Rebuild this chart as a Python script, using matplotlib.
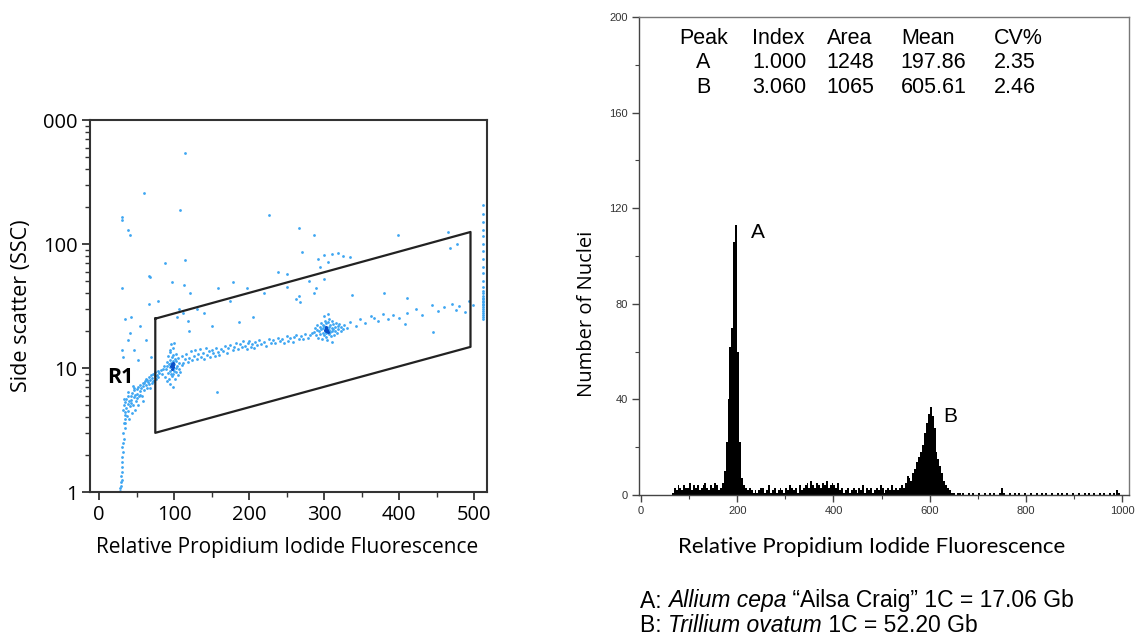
import numpy as np
import matplotlib
matplotlib.use("Agg")
import matplotlib.pyplot as plt
from matplotlib.ticker import FixedLocator, NullFormatter, LogLocator

# ---- left panel: SSC vs PI scatter ----
stream_x = [27, 28, 28, 29, 29, 30, 29, 30, 31, 30, 31, 32, 31, 32, 33, 32, 34, 33, 35, 34]
stream_y = [1.0, 1.02, 1.08, 1.12, 1.2, 1.25, 1.35, 1.45, 1.6, 1.75, 1.9, 2.1, 2.3, 2.5, 2.7, 3.0, 3.3, 3.6, 3.9, 4.2]

band_left = [(32, 4.6), (33, 5.0), (34, 4.4), (35, 5.3), (36, 4.8), (36, 5.6), (38, 5.1), (38, 4.5),
             (39, 5.9), (40, 5.4), (41, 4.9), (42, 6.0), (43, 5.5), (44, 6.3), (45, 5.0), (46, 5.8),
             (47, 6.6), (48, 6.1), (49, 5.4), (50, 6.8), (51, 6.2), (52, 7.0), (53, 5.9), (54, 6.5),
             (55, 7.3), (56, 6.9), (57, 6.0), (58, 7.6), (59, 7.1), (60, 6.6), (61, 7.9), (62, 7.3),
             (63, 8.2), (64, 6.9), (65, 7.7), (66, 8.4), (67, 7.4), (68, 8.0), (69, 8.7), (70, 7.6),
             (71, 8.3), (72, 9.0), (73, 7.9), (74, 8.6), (75, 9.3), (76, 8.1), (77, 8.8), (78, 9.5),
             (79, 8.4), (80, 9.1), (82, 9.6), (84, 8.9), (85, 9.8), (86, 10.3), (37, 4.1), (40, 3.9),
             (44, 4.3), (48, 4.6), (52, 5.0), (58, 5.4), (35, 3.6), (42, 5.2), (46, 6.9), (50, 5.7),
             (55, 6.1), (60, 7.6), (64, 8.0), (68, 6.9), (72, 7.9), (33, 5.6), (39, 6.4), (45, 7.2)]

cluster_1 = [(88, 8.5), (89, 9.8), (90, 11.2), (90, 7.8), (91, 10.4), (92, 9.1), (92, 12.5), (93, 10.8),
             (93, 8.2), (94, 11.6), (94, 9.5), (95, 10.1), (95, 13.5), (95, 7.4), (96, 11.0), (96, 9.0),
             (97, 10.5), (97, 12.2), (97, 8.6), (98, 9.8), (98, 11.4), (98, 14.5), (99, 10.2), (99, 8.9),
             (99, 12.8), (100, 10.7), (100, 9.4), (101, 11.8), (101, 8.1), (102, 10.0), (102, 13.0),
             (103, 9.2), (103, 11.3), (104, 10.4), (105, 8.7), (105, 12.0), (106, 9.9), (107, 11.0),
             (108, 9.3), (110, 10.6), (96, 15.5), (98, 7.0), (100, 16.0), (94, 14.0)]
core_1 = [(96, 10.3), (97, 10.8), (98, 10.2), (98, 11.0), (99, 10.6), (97, 9.8)]

band_mid = [(110, 12.4), (112, 10.9), (114, 11.8), (116, 13.0), (118, 11.2), (120, 12.1), (122, 13.6),
            (124, 11.5), (126, 12.6), (128, 13.9), (130, 11.9), (132, 12.9), (134, 14.2), (136, 12.3),
            (138, 13.3), (140, 11.8), (142, 14.5), (144, 12.7), (146, 13.6), (148, 12.2), (150, 14.0),
            (152, 13.1), (154, 12.5), (156, 14.6), (158, 13.4), (160, 12.8), (162, 14.1), (165, 13.6),
            (168, 15.0), (170, 13.2), (172, 14.4), (175, 15.4), (178, 13.9), (180, 14.8), (182, 16.0),
            (185, 14.3), (188, 15.5), (190, 14.7), (192, 16.4), (195, 15.0), (197, 14.2), (198, 15.8),
            (200, 16.5), (202, 14.8), (204, 15.6), (206, 14.4), (208, 16.2), (210, 15.3), (213, 16.8),
            (216, 15.7), (220, 16.3), (223, 15.1), (226, 17.2), (229, 16.0), (232, 16.9), (235, 15.8),
            (238, 17.5), (241, 16.4), (244, 17.1), (247, 16.0), (250, 18.0), (252, 16.6), (255, 17.4),
            (258, 16.3), (260, 17.9), (263, 18.6), (266, 17.2), (269, 18.2), (272, 17.0), (275, 18.9),
            (278, 17.6), (281, 18.4), (284, 19.2)]

cluster_2 = [(286, 19.5), (288, 21.0), (289, 18.3), (290, 20.2), (291, 22.1), (292, 17.6), (293, 19.8),
             (294, 21.5), (295, 18.8), (296, 23.0), (296, 20.5), (297, 17.2), (298, 19.3), (298, 22.4),
             (299, 20.9), (300, 18.5), (300, 21.8), (301, 24.0), (301, 19.9), (302, 20.6), (302, 17.8),
             (303, 22.9), (303, 19.2), (304, 21.2), (304, 16.8), (305, 20.1), (305, 23.5), (306, 18.9),
             (306, 21.6), (307, 20.4), (307, 25.0), (308, 19.5), (308, 22.2), (309, 18.1), (310, 21.0),
             (310, 23.8), (311, 19.8), (312, 20.7), (312, 22.6), (313, 18.6), (314, 21.4), (315, 20.0),
             (316, 23.2), (317, 19.3), (318, 21.9), (319, 20.5), (320, 22.8), (322, 19.9), (323, 21.5),
             (325, 20.8), (327, 22.3), (330, 21.2), (300, 26.5), (305, 27.5), (310, 16.2)]
core_2 = [(301, 20.4), (302, 19.8), (303, 20.9), (304, 20.2), (305, 19.6), (303, 21.4)]

band_right = [(335, 23.5), (342, 22.0), (348, 24.8), (355, 23.0), (362, 26.5), (366, 25.5), (372, 24.0),
              (378, 27.5), (385, 25.0), (392, 26.8), (400, 25.2), (410, 28.0), (422, 30.0), (430, 27.0),
              (444, 32.0), (452, 29.0), (460, 31.0), (471, 33.0), (476, 29.5), (480, 31.5), (488, 28.5),
              (493, 35.0), (498, 32.0), (445, 19.5), (408, 22.5)]

outliers = [(115, 540), (60, 258), (108, 188), (30, 166), (30, 156), (39, 130), (41, 118), (227, 171),
            (266, 134), (287, 118), (399, 118), (465, 125), (468, 93), (477, 100), (115, 74), (88, 70),
            (31, 44), (68, 54), (270, 86), (300, 82), (310, 83), (318, 85), (325, 80), (335, 78),
            (292, 76), (305, 72), (295, 65), (239, 59), (250, 57), (97, 49), (113, 47), (121, 40),
            (179, 49), (197, 44), (159, 44), (262, 36), (266, 38), (268, 34), (287, 40), (289, 44),
            (337, 39), (186, 23.5), (205, 26), (157, 6.4), (34, 25), (43, 26), (41, 19), (39, 16.8),
            (30, 14), (46, 14), (32, 12.2), (52, 11.6), (63, 16.8), (69, 12.2), (54, 21.8), (67, 33),
            (78, 35), (67, 55), (130, 30), (140, 28), (150, 22), (120, 20),
            (175, 35), (220, 40), (250, 45), (280, 50), (300, 52), (380, 40), (410, 37), (106, 30),
            (104, 26), (112, 28), (118, 24)]

edge_x = 512
edge_y = [25, 26, 27, 28, 29, 30, 31, 32, 33, 34, 35, 36, 37, 38, 40, 42, 45, 50, 58, 65, 75, 88,
          100, 115, 130, 150, 175, 205]

# gate R1 (PI, SSC)
gate_x = [75, 75, 495, 495, 75]
gate_y = [25, 3.0, 14.8, 125, 25]

# ---- right panel: DNA histogram, 4-channel bins starting at channel 64 ----
hist_start = 64
hist_width = 4
counts = ([1, 3, 2, 4, 3, 2, 4, 3, 3, 5, 2, 4, 3, 4, 2, 3, 4, 5, 3, 2, 4, 3, 5, 4, 2, 3]
          + [5, 10, 22, 40, 62, 70, 106, 113, 60, 22, 7]
          + [4, 3, 2, 3, 2, 1, 2, 1, 2, 3]
          + [3, 1, 2, 4, 1, 2, 3, 1, 2, 3, 2, 1]
          + [3, 2, 4, 3, 2, 3, 1, 4, 2, 3]
          + [4, 5, 3, 6, 4, 3, 5, 4, 3, 5, 4, 6, 3, 4, 5]
          + [4, 3, 5, 2, 3, 1, 2, 3, 1, 2]
          + [3, 2, 1, 3, 2, 4, 1, 3, 2, 3, 1, 2, 3, 2, 4]
          + [3, 1, 2, 3, 2, 4, 2, 3, 2, 3, 4, 3]
          + [5, 8, 7, 6, 9, 11, 14, 16, 18, 21, 26, 30, 34, 37, 33, 28, 18, 15, 12, 9, 6, 4, 3, 2, 1]
          + [1, 0, 1, 1, 0, 1, 0, 0, 1, 0, 1, 0, 0, 1, 0, 0, 1, 0, 0, 1,
             0, 1, 0, 0, 1, 3, 1, 0, 0, 1, 0, 0, 1, 0, 1, 0, 0, 1, 0, 0,
             1, 0, 0, 1, 0, 0, 1, 0, 1, 0, 0, 1, 0, 0, 1, 0, 1, 0, 0, 1,
             0, 0, 1, 0, 0, 1, 0, 0, 1, 0, 1, 0, 0, 1, 0, 0, 1, 0, 1, 0,
             0, 1, 0, 1, 0, 2, 1, 0])

table_header = ["Peak", "Index", "Area", "Mean", "CV%"]
table_rows = [["A", "1.000", "1248", "197.86", "2.35"],
              ["B", "3.060", "1065", "605.61", "2.46"]]

blue = "#3ea6f2"
dark_blue = "#0a4fc8"

fig = plt.figure(figsize=(11.4, 6.42), dpi=100)

# ================= left panel =================
ax1 = fig.add_axes([90 / 1140, 1 - 492 / 642, 397 / 1140, 372 / 642])
pts = band_left + cluster_1 + band_mid + cluster_2 + band_right + outliers
px = stream_x + [p[0] for p in pts] + [edge_x] * len(edge_y)
py = stream_y + [p[1] for p in pts] + edge_y
ax1.scatter(px, py, s=4, marker="o", color=blue, linewidths=0)
cores = core_1 + core_2
ax1.scatter([p[0] for p in cores], [p[1] for p in cores], s=5, marker="o", color=dark_blue, linewidths=0)
ax1.plot(gate_x, gate_y, color="#222222", lw=1.6)

ax1.set_yscale("log")
ax1.set_xlim(-12, 517)
ax1.set_ylim(1, 1000)
ax1.xaxis.set_major_locator(FixedLocator([0, 100, 200, 300, 400, 500]))
ax1.xaxis.set_minor_locator(FixedLocator([50, 150, 250, 350, 450]))
ax1.yaxis.set_major_locator(FixedLocator([1, 10, 100, 1000]))
ax1.yaxis.set_minor_locator(LogLocator(base=10, subs=np.arange(2, 10)))
ax1.yaxis.set_minor_formatter(NullFormatter())
ax1.set_yticklabels(["1", "10", "100", "000"])
for sp in ax1.spines.values():
    sp.set_linewidth(1.5)
    sp.set_color("#333333")
ax1.tick_params(which="major", length=6, width=1.3, color="#333333", labelsize=14.5, pad=3)
ax1.tick_params(which="minor", length=3.5, width=1.0, color="#333333")
for lab in ax1.get_xticklabels() + ax1.get_yticklabels():
    lab.set_family("Open Sans")
ax1.text(29, 8.4, "R1", fontsize=15.5, fontweight="bold", family="Open Sans",
         ha="center", va="center", zorder=5)

fig.text(287 / 1140, 1 - 547 / 642, "Relative Propidium Iodide Fluorescence", fontsize=15,
         family="Open Sans", ha="center", va="center")
fig.text(22 / 1140, 1 - 306 / 642, "Side scatter (SSC)", fontsize=15.5, family="Open Sans",
         rotation=90, ha="center", va="center")

# ================= right panel =================
ax2 = fig.add_axes([639 / 1140, 1 - 495 / 642, 490 / 1140, 478 / 642])
left_edges = hist_start + hist_width * np.arange(len(counts))
ax2.bar(left_edges, counts, width=hist_width, align="edge", color="black", linewidth=0)
ax2.set_xlim(-4, 1014)
ax2.set_ylim(0, 200)
ax2.xaxis.set_major_locator(FixedLocator([0, 200, 400, 600, 800, 1000]))
ax2.xaxis.set_minor_locator(FixedLocator([100, 300, 500, 700, 900]))
ax2.yaxis.set_major_locator(FixedLocator([0, 40, 80, 120, 160, 200]))
ax2.yaxis.set_minor_locator(FixedLocator([20, 60, 100, 140, 180]))
for name, sp in ax2.spines.items():
    sp.set_linewidth(1.0)
    sp.set_color("#444444" if name in ("left", "bottom") else "#777777")
ax2.tick_params(which="major", length=5, width=1.0, color="#444444", labelsize=8,
                labelcolor="#333333", pad=3)
ax2.tick_params(which="minor", length=3, width=0.8, color="#444444")
for lab in ax2.get_xticklabels() + ax2.get_yticklabels():
    lab.set_family("Liberation Sans")

ax2.text(243, 110, "A", fontsize=15, family="Liberation Sans", ha="center", va="center")
ax2.text(642, 33, "B", fontsize=15, family="Liberation Sans", ha="center", va="center")

col_x = [130, 231, 386, 540, 733]
row_y = [191.2, 180.8, 170.7]
for j, (cx, head) in enumerate(zip(col_x, table_header)):
    ha = "center" if j == 0 else "left"
    ax2.text(cx, row_y[0], head, fontsize=15.5, family="Liberation Sans", ha=ha, va="center")
    for i, row in enumerate(table_rows):
        ax2.text(cx, row_y[i + 1], row[j], fontsize=15.5, family="Liberation Sans", ha=ha, va="center")

fig.text(872 / 1140, 1 - 547 / 642, "Relative Propidium Iodide Fluorescence", fontsize=16,
         family="Lato", ha="center", va="center")
fig.text(587 / 1140, 1 - 314 / 642, "Number of Nuclei", fontsize=14.5, family="Open Sans",
         rotation=90, ha="center", va="center")

# caption with italic species names
renderer = fig.canvas.get_renderer()


def draw_runs(x, y, runs):
    for s, style in runs:
        t = fig.text(x, y, s, fontsize=16.5, family="Liberation Sans", style=style,
                     ha="left", va="center")
        x += t.get_window_extent(renderer).width / fig.bbox.width


draw_runs(640 / 1140, 1 - 601 / 642, [("A: ", "normal"), ("Allium cepa", "italic"),
                                      (" \u201cAilsa Craig\u201d 1C = 17.06 Gb", "normal")])
draw_runs(640 / 1140, 1 - 626 / 642, [("B: ", "normal"), ("Trillium ovatum", "italic"),
                                      (" 1C = 52.20 Gb", "normal")])

fig.savefig("out.png", dpi=100)
